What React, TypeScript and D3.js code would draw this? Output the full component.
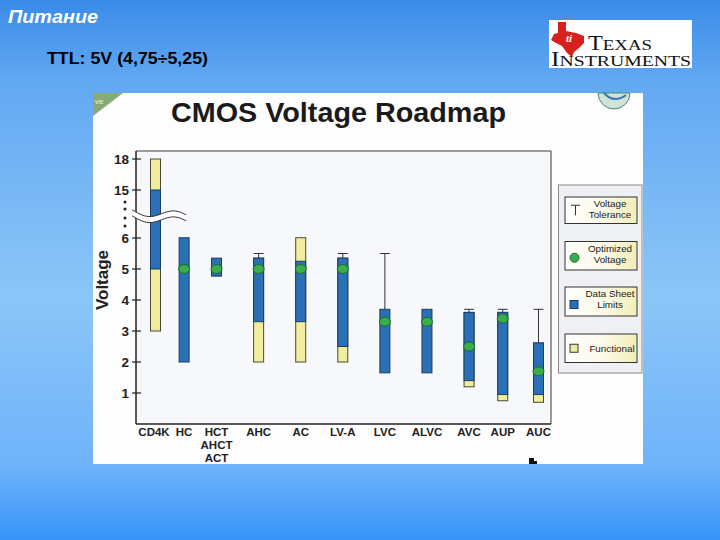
import React from "react";
import * as d3 from "d3";

const categories = ["CD4K", "HC", "HCT", "AHC", "AC", "LV-A", "LVC", "ALVC", "AVC", "AUP", "AUC"];
const categoryLabels: string[][] = [["CD4K"], ["HC"], ["HCT", "AHCT", "ACT"], ["AHC"], ["AC"], ["LV-A"], ["LVC"], ["ALVC"], ["AVC"], ["AUP"], ["AUC"]];
const categorySlots = [0, 0.68, 1.45, 2.45, 3.45, 4.45, 5.45, 6.45, 7.45, 8.25, 9.1];
const functionalLow: (number | null)[] = [3, null, null, 2, 2, 2, null, null, 1.2, 0.75, 0.7];
const functionalHigh: (number | null)[] = [18, null, null, 5.35, 6.05, 5.35, null, null, 3.6, 3.6, 2.6];
const sheetLow = [5, 2, 4.77, 3.3, 3.3, 2.5, 1.65, 1.65, 1.4, 0.95, 0.95];
const sheetHigh = [15, 6.05, 5.35, 5.35, 5.25, 5.35, 3.7, 3.7, 3.6, 3.6, 2.62];
const optimized: (number | null)[] = [null, 5, 5, 5, 5, 5, 3.3, 3.3, 2.5, 3.4, 1.7];
const tolerance: (number | null)[] = [null, null, null, 5.5, null, 5.5, 5.5, null, 3.7, 3.7, 3.7];
const yTicks = [1, 2, 3, 4, 5, 6, 15, 18];
const legendItems = [["Voltage", "Tolerance"], ["Optimized", "Voltage"], ["Data Sheet", "Limits"], ["Functional"]];

const BLUE = "#2b6fb6";
const YELLOW = "#f1ed9f";
const GREEN = "#3aad4c";
const FONT = "Liberation Sans, Arial, sans-serif";

export default function App() {
  const left = 136, right = 551, top = 151, bottom = 424;
  const y = d3.scaleLinear().domain([0, 6, 15, 18]).range([bottom, 238, 190, 159]);
  const x = d3.scaleLinear().domain([0, 9.1]).range([155.5, 538.5]);
  const bw = 10;

  const wave = (off: number) => {
    const pts: [number, number][] = [];
    for (let i = 0; i <= 30; i++) {
      const xx = 132 + (i / 30) * 54;
      const t = (xx - 132) / 54;
      const yy = 211 + off + 4 * Math.sin(t * Math.PI * 2 - 0.3) + t * 5;
      pts.push([xx, yy]);
    }
    return pts;
  };
  const w1 = wave(0), w2 = wave(6);
  const line = d3.line();
  const area = line([...w1, ...w2.slice().reverse()]) + "Z";

  const legTops = [197, 241.5, 287, 334];
  const legH = [26.5, 28.5, 29, 28.5];

  return (
    <svg width={720} height={540} style={{ position: "absolute", left: 0, top: 0 }} fontFamily={FONT}>
      <defs>
        <linearGradient id="bg" x1="0" y1="0" x2="0" y2="1">
          <stop offset="0" stopColor="#3a8be8" />
          <stop offset="0.15" stopColor="#62a8f2" />
          <stop offset="0.55" stopColor="#8cc6f8" />
          <stop offset="0.86" stopColor="#6fb3fa" />
          <stop offset="1" stopColor="#3795f8" />
        </linearGradient>
        <linearGradient id="leg" x1="0" y1="0" x2="1" y2="0">
          <stop offset="0" stopColor="#ffffff" />
          <stop offset="0.55" stopColor="#fbf9e6" />
          <stop offset="1" stopColor="#f3eeb8" />
        </linearGradient>
      </defs>
      <rect x={0} y={0} width={720} height={540} fill="url(#bg)" />

      <text x={8} y={23} fill="#ffffff" fontSize={18} fontWeight="bold" fontStyle="italic" textLength={90} lengthAdjust="spacingAndGlyphs">Питание</text>
      <text x={47} y={64} fill="#000000" fontSize={16} fontWeight="bold" textLength={161} lengthAdjust="spacingAndGlyphs">TTL: 5V (4,75÷5,25)</text>

      {/* TI logo */}
      <g>
        <rect x={549} y={20} width={143} height={48} fill="#ffffff" />
        <path d="M558,22 L566,22 L566,31 L576,33 L584,36 L584,43 L579,48 L574,52 L572,57 L567,53 L562,46 L556,43 L551,40 L554,34 L558,33 Z" fill="#d8201f" />
        <text x={566} y={42} fill="#ffffff" fontSize={11} fontStyle="italic" fontWeight="bold" fontFamily="Liberation Serif, serif">ti</text>
        <text x={588} y={50} fill="#111" fontFamily="Liberation Serif, serif" textLength={64} lengthAdjust="spacingAndGlyphs">
          <tspan fontSize={20}>T</tspan><tspan fontSize={15.5}>EXAS</tspan>
        </text>
        <text x={551} y={66} fill="#111" fontFamily="Liberation Serif, serif" textLength={140} lengthAdjust="spacingAndGlyphs">
          <tspan fontSize={20}>I</tspan><tspan fontSize={15.5}>NSTRUMENTS</tspan>
        </text>
      </g>

      {/* chart image */}
      <rect x={93} y={93} width={550} height={371} fill="#fdfdfe" />
      <path d="M93,93 L123,93 L93,116 Z" fill="#86ab78" />
      <text x={95} y={104} fill="#e8f0e0" fontSize={8}>ve</text>
      <path d="M598,93 A16,16 0 0 0 630,93 Z" fill="#cfe3d6" stroke="#4a8a7a" strokeWidth={1} />
      <path d="M604,93 Q614,104 626,95" fill="none" stroke="#3a78b8" strokeWidth={2} />
      <rect x={529} y={458} width={5} height={6} fill="#111" />
      <rect x={534} y={461} width={3} height={3} fill="#111" />

      <text x={171} y={122} fill="#1a1a1a" fontSize={27} fontWeight="bold" textLength={335} lengthAdjust="spacingAndGlyphs">CMOS Voltage Roadmap</text>

      {/* plot area */}
      <rect x={left} y={top} width={right - left} height={bottom - top} fill="#f7f8fb" />
      <path d={`M${left},${top} H${right} V${bottom}`} fill="none" stroke="#3a3a3a" strokeWidth={1} />
      <line x1={left} y1={top} x2={left} y2={bottom} stroke="#222" strokeWidth={1.5} />
      <line x1={left} y1={bottom} x2={right} y2={bottom} stroke="#222" strokeWidth={1.5} />

      {yTicks.map((t) => (
        <g key={t}>
          <line x1={132} x2={141} y1={y(t)} y2={y(t)} stroke="#222" strokeWidth={1.2} />
          <text x={129} y={y(t)} dy="0.36em" textAnchor="end" fontSize={13.5} fontWeight="bold" fill="#222">{t}</text>
        </g>
      ))}
      {[202, 209, 218, 226].map((d) => (
        <circle key={d} cx={125} cy={d} r={1.5} fill="#222" />
      ))}
      <text transform="translate(108,280) rotate(-90)" textAnchor="middle" fontSize={17} fontWeight="bold" fill="#222">Voltage</text>

      {/* bars */}
      {categories.map((c, i) => {
        const cx = x(categorySlots[i]);
        const fl = functionalLow[i], fh = functionalHigh[i];
        const tol = tolerance[i], opt = optimized[i];
        const barTop = Math.max(fh ?? 0, sheetHigh[i]);
        return (
          <g key={c}>
            {tol != null && (
              <g stroke="#333" strokeWidth={1}>
                <line x1={cx} x2={cx} y1={y(tol)} y2={y(barTop)} />
                <line x1={cx - 5} x2={cx + 5} y1={y(tol)} y2={y(tol)} />
              </g>
            )}
            {fl != null && fh != null && (
              <rect x={cx - bw / 2} y={y(fh)} width={bw} height={y(fl) - y(fh)} fill={YELLOW} stroke="#4a4a30" strokeWidth={1} />
            )}
            <rect x={cx - bw / 2} y={y(sheetHigh[i])} width={bw} height={y(sheetLow[i]) - y(sheetHigh[i])} fill={BLUE} stroke="#1c3d66" strokeWidth={1} />
            {opt != null && (
              <ellipse cx={cx} cy={y(opt)} rx={5.5} ry={4.5} fill={GREEN} stroke="#1d6a2a" strokeWidth={1} />
            )}
            {categoryLabels[i].map((l, k) => (
              <text key={k} x={i === 0 ? cx - 1.5 : cx} y={435.5 + k * 13} textAnchor="middle" fontSize={11.5} fontWeight="bold" fill="#222">{l}</text>
            ))}
          </g>
        );
      })}

      {/* break squiggle */}
      <path d={area} fill="#fdfdfe" />
      <path d={line(w1) ?? ""} fill="none" stroke="#333" strokeWidth={1} />
      <path d={line(w2) ?? ""} fill="none" stroke="#333" strokeWidth={1} />

      {/* legend */}
      <rect x={558.5} y={185} width={83.5} height={188} fill="#eef0f3" stroke="#8a8a8a" strokeWidth={1} />
      {legendItems.map((lines, i) => {
        const ty = legTops[i], h = legH[i];
        const cy = ty + h / 2;
        return (
          <g key={i}>
            <rect x={565} y={ty} width={72} height={h} fill="url(#leg)" stroke="#333" strokeWidth={1} />
            {i === 0 && (
              <g stroke="#333" strokeWidth={1}>
                <line x1={571} x2={580} y1={cy - 5} y2={cy - 5} />
                <line x1={575.5} x2={575.5} y1={cy - 5} y2={cy + 5} />
              </g>
            )}
            {i === 1 && <circle cx={574.5} cy={cy + 2} r={4.5} fill={GREEN} stroke="#1d6a2a" strokeWidth={1} />}
            {i === 2 && <rect x={570} y={cy - 1} width={8} height={8} fill={BLUE} stroke="#1c3d66" strokeWidth={1} />}
            {i === 3 && <rect x={570} y={cy - 4} width={8} height={8} fill={YELLOW} stroke="#333" strokeWidth={1} />}
            {lines.map((l, k) => (
              <text key={k} x={lines.length === 1 ? 612 : 610} y={lines.length === 1 ? cy + 3.5 : ty + 10 + k * 11} textAnchor="middle" fontSize={9.8} fill="#222">{l}</text>
            ))}
          </g>
        );
      })}
    </svg>
  );
}
